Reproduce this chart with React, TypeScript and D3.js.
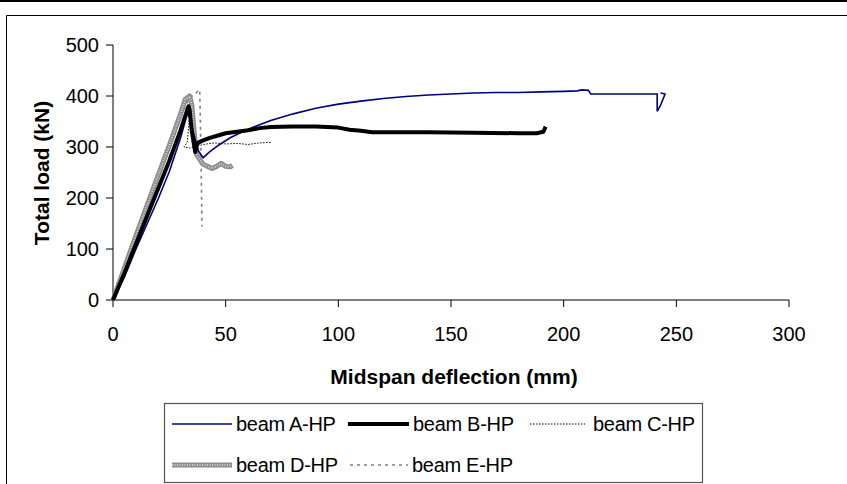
import React from "react";
import * as d3 from "d3";

const xTicks = [0, 50, 100, 150, 200, 250, 300];
const yTicks = [0, 100, 200, 300, 400, 500];

// [deflection mm, load kN]
const beamA: [number, number][] = [
  [0, 0], [5, 45], [10, 98], [15, 148], [20, 198], [25, 252], [30, 318], [33, 366],
  [34, 358], [36, 322], [38, 292], [40, 279], [43, 291], [47, 304], [52, 318], [60, 335],
  [70, 352], [80, 365], [90, 376], [100, 384], [110, 390], [120, 395], [130, 399],
  [140, 402], [150, 404], [160, 406], [170, 407], [180, 407], [190, 408], [200, 409],
  [206, 410], [208, 412], [211, 411], [212, 404], [220, 404], [230, 404], [241.5, 404],
  [241.5, 370], [243, 382], [245, 404], [243, 406],
];
const beamB: [number, number][] = [
  [0, 0], [5, 52], [10, 108], [15, 163], [20, 218], [25, 273], [30, 333], [33.5, 380],
  [34, 372], [35, 330], [36.5, 290], [37, 302], [38, 309], [40, 313], [43, 318], [47, 323],
  [50, 327], [55, 330], [60, 333], [65, 337], [70, 339], [80, 340], [90, 340], [100, 338],
  [105, 334], [110, 332], [115, 329], [120, 329], [140, 329], [160, 328], [180, 327],
  [188, 327], [191, 330], [192, 340],
];
const beamC: [number, number][] = [
  [0, 0], [5, 52], [10, 108], [15, 163], [20, 218], [25, 273], [30, 333], [33.5, 380],
  [34, 362], [33, 310], [31.5, 300], [34, 298], [37, 301], [40, 305], [45, 308], [50, 306],
  [55, 307], [60, 305], [65, 308], [70, 309],
];
const beamD: [number, number][] = [
  [0, 0], [5, 62], [10, 124], [15, 184], [20, 244], [25, 303], [30, 365], [32, 393],
  [34, 400], [35, 382], [36, 330], [37, 286], [39, 272], [40, 266], [42, 262], [44, 258],
  [46, 262], [48, 268], [50, 262], [52, 261], [53, 264],
];
const beamE: [number, number][] = [
  [0, 0], [5, 60], [10, 120], [15, 180], [20, 240], [25, 300], [30, 360], [34, 396],
  [38.5, 412], [39, 300], [39.5, 144],
];

const W = 847;
const H = 484;

export default function App() {
  const x = d3.scaleLinear().domain([0, 300]).range([113, 789]);
  const y = d3.scaleLinear().domain([0, 500]).range([300, 45]);
  const line = d3
    .line<[number, number]>()
    .x((d) => x(d[0]))
    .y((d) => y(d[1]));

  const font = "'Liberation Sans', Arial, sans-serif";

  const legendRows = [
    { y: 424, items: [
      { key: "A", x1: 172, x2: 232, tx: 236 },
      { key: "B", x1: 348, x2: 409, tx: 413 },
      { key: "C", x1: 530, x2: 585, tx: 593 },
    ] },
    { y: 465, items: [
      { key: "D", x1: 172, x2: 232, tx: 236 },
      { key: "E", x1: 350, x2: 408, tx: 412 },
    ] },
  ];
  const names: Record<string, string> = {
    A: "beam A-HP", B: "beam B-HP", C: "beam C-HP", D: "beam D-HP", E: "beam E-HP",
  };

  const styled = (key: string, d: string | null, k: string) => {
    switch (key) {
      case "A":
        return <path key={k} d={d || ""} fill="none" stroke="#000080" strokeWidth={1.6} />;
      case "B":
        return <path key={k} d={d || ""} fill="none" stroke="#000" strokeWidth={4} strokeLinejoin="round" />;
      case "C":
        return <path key={k} d={d || ""} fill="none" stroke="#000" strokeWidth={1} strokeDasharray="1.5,1.5" />;
      case "D":
        return (
          <g key={k}>
            <path d={d || ""} fill="none" stroke="#8c8c8c" strokeWidth={5} strokeLinejoin="round" />
            <path d={d || ""} fill="none" stroke="#d4d4d4" strokeWidth={2} strokeDasharray="1,1.5" />
          </g>
        );
      case "E":
        return <path key={k} d={d || ""} fill="none" stroke="#808080" strokeWidth={1.6} strokeDasharray="3,4" />;
    }
    return null;
  };

  return (
    <svg width={W} height={H} style={{ position: "absolute", left: 0, top: 0, background: "#fff" }}>
      <rect x={0} y={0} width={W} height={H} fill="#fff" />
      {/* outer frames */}
      <line x1={0} x2={W} y1={1} y2={1} stroke="#000" strokeWidth={2} />
      <path d={`M6.5,${H} V15.5 H${W}`} fill="none" stroke="#000" strokeWidth={1} />

      {/* axes */}
      <line x1={113} x2={113} y1={y(500)} y2={y(0)} stroke="#000" strokeWidth={1} />
      <line x1={113} x2={789} y1={300} y2={300} stroke="#000" strokeWidth={1} />
      {yTicks.map((t) => (
        <g key={"y" + t}>
          <line x1={106} x2={113} y1={y(t)} y2={y(t)} stroke="#000" />
          <text x={99} y={y(t)} dy="0.36em" textAnchor="end" fontFamily={font} fontSize={20}>
            {t}
          </text>
        </g>
      ))}
      {xTicks.map((t) => (
        <g key={"x" + t}>
          <line x1={x(t)} x2={x(t)} y1={300} y2={307} stroke="#000" />
          <text x={x(t)} y={341} textAnchor="middle" fontFamily={font} fontSize={20}>
            {t}
          </text>
        </g>
      ))}
      <text x={454} y={384} textAnchor="middle" fontFamily={font} fontSize={21} fontWeight="bold">
        Midspan deflection (mm)
      </text>
      <text
        transform="translate(49,173) rotate(-90)"
        textAnchor="middle"
        fontFamily={font}
        fontSize={21}
        fontWeight="bold"
      >
        Total load (kN)
      </text>

      {/* series */}
      {styled("E", line(beamE), "e")}
      {styled("D", line(beamD), "d")}
      {styled("A", line(beamA), "a")}
      {styled("C", line(beamC), "c")}
      {styled("B", line(beamB), "b")}

      {/* legend */}
      <rect x={164.5} y={403.5} width={538} height={79} fill="#fff" stroke="#555" strokeWidth={1.2} />
      {legendRows.map((row) =>
        row.items.map((it) => (
          <g key={"lg" + it.key}>
            {styled(it.key, `M${it.x1},${row.y}H${it.x2}`, "l" + it.key)}
            <text x={it.tx} y={row.y + 7} fontFamily={font} fontSize={20} letterSpacing={-0.3}>
              {names[it.key]}
            </text>
          </g>
        ))
      )}
    </svg>
  );
}
